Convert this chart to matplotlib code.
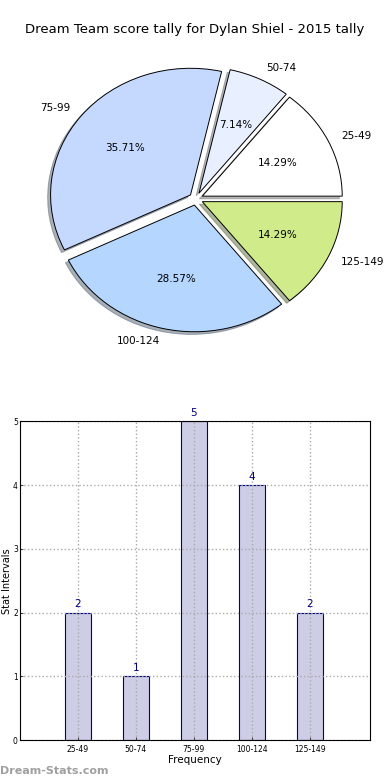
import numpy as np
import matplotlib
matplotlib.use('Agg')
import matplotlib.pyplot as plt

# dados
intervalos = ['25-49', '50-74', '75-99', '100-124', '125-149']
contagens = [2, 1, 5, 4, 2]
cores_pie = ['#ffffff', '#e8f0ff', '#c5d9ff', '#b4d6ff', '#cfeb8a']
explode = [0.05, 0.05, 0.05, 0.05, 0.05]
y_ticks = [0, 1, 2, 3, 4, 5]

def main():
    fig = plt.figure(figsize=(3.9, 7.8), dpi=100)
    fig.text(0.5, 0.962, 'Dream Team score tally for Dylan Shiel - 2015 tally',
             ha='center', va='center', fontsize=9.5)

    # pizza
    ax1 = fig.add_axes([0.054, 0.542, 0.897, 0.406])
    wedges, texts, autotexts = ax1.pie(contagens, labels=intervalos, colors=cores_pie,
                                       explode=explode, autopct='%1.2f%%',
                                       shadow={'ox': -0.015, 'oy': -0.015, 'shade': 0.55},
                                       startangle=0, counterclock=True,
                                       wedgeprops={'edgecolor': 'black', 'linewidth': 0.7},
                                       textprops={'fontsize': 7.5})
    ax1.set_aspect('auto')
    ax1.set_xlim(-1.25, 1.25)
    ax1.set_ylim(-1.25, 1.25)
    ax1.axis('off')

    # barras
    ax2 = fig.add_axes([0.051, 0.051, 0.897, 0.409])
    x = np.arange(len(intervalos))
    ax2.bar(x, contagens, width=0.45, color='#cdcde6', edgecolor='#000080',
            linewidth=0.8, zorder=1)
    for xi, v in zip(x, contagens):
        ax2.text(xi, v + 0.05, str(v), ha='center', va='bottom', color='#000080',
                 fontsize=7.5, zorder=5)
    ax2.set_xlim(-1, 5.03)
    ax2.set_ylim(0, 5)
    ax2.set_xticks(x)
    ax2.set_xticklabels(intervalos)
    ax2.set_yticks(y_ticks)
    ax2.tick_params(labelsize=5.5, direction='in', length=2, width=0.5)
    ax2.tick_params(axis='y', pad=1.5)
    ax2.grid(True, linestyle=':', color='#aaaaaa', linewidth=1.0, zorder=3)
    ax2.set_axisbelow(False)
    ax2.set_xlabel('Frequency', fontsize=7.5, labelpad=1)
    ax2.set_ylabel('Stat Intervals', fontsize=7)
    ax2.yaxis.set_label_coords(-0.022, 0.5)
    for s in ax2.spines.values():
        s.set_linewidth(0.8)
        s.set_zorder(4)

    fig.text(0.0, 0.012, 'Dream-Stats.com', ha='left', va='center', fontsize=8,
             color='#a0a0a0', fontweight='bold')

    fig.savefig('out.png', dpi=100)

if __name__ == '__main__':
    main()
